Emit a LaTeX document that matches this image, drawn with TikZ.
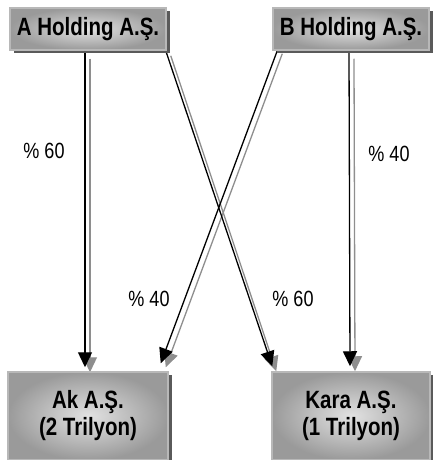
\documentclass[tikz,border=0pt]{standalone}
\usepackage{fontspec}
\setmainfont{Liberation Sans}
\newfontfamily\narrowfont{Liberation Sans}[FakeStretch=0.82]
\usetikzlibrary{arrows.meta,shadows,calc}
\definecolor{boxedge}{HTML}{9A9A9A}
\definecolor{boxmid}{HTML}{E2E2E2}
\definecolor{boxband}{HTML}{B8B8B8}
\definecolor{boxshadow}{HTML}{5A5A5A}
\definecolor{lineshadow}{HTML}{8E8E8E}
\pgfdeclarelayer{background}
\pgfsetlayers{background,main}
\tikzset{
  entity/.style={rectangle, inner color=boxmid, outer color=boxedge,
    draw=boxband, line width=1.5pt, inner sep=0pt,
    font=\narrowfont\fontsize{25}{27}\selectfont\bfseries, align=center,
    drop shadow={shadow xshift=4pt, shadow yshift=-3pt, fill=boxshadow, opacity=1}},
  own/.style={line width=1.3pt, draw=black, -{Triangle[length=15pt,width=14pt]}},
  ownshadow/.style={line width=1.3pt, draw=lineshadow, -{Triangle[length=15pt,width=14pt]}},
  pct/.style={font=\narrowfont\fontsize{22}{24}\selectfont, inner sep=0pt}
}
\begin{document}
\begin{tikzpicture}[x=1pt,y=-1pt]
\useasboundingbox (0,0) rectangle (432,460);
\node[entity, minimum width=156pt, minimum height=42pt] (A) at (88,29) {A Holding A.Ş.};
\node[entity, minimum width=156pt, minimum height=42pt] (B) at (351,29) {B Holding A.Ş.};
\node[entity, minimum width=160pt, minimum height=88pt] (Ak) at (88,416) {Ak A.Ş.\\(2 Trilyon)};
\node[entity, minimum width=158pt, minimum height=88pt] (Kara) at (351,416) {Kara A.Ş.\\(1 Trilyon)};

\node[pct] (p1) at (44,151) {\% 60};
\node[pct] (p2) at (389,154) {\% 40};
\node[pct] (p3) at (149,299) {\% 40};
\node[pct] (p4) at (293,299) {\% 60};

\begin{pgfonlayer}{background}
% shadows of the connectors
\draw[ownshadow] ($([xshift=-3pt]A.south)+(5,8)$) -- ($([xshift=-3pt,yshift=4pt]Ak.north)+(5,5)$);
\draw[ownshadow] ($(A.south east)+(4,5)$) -- ($([shift={(1pt,5pt)}]Kara.north west)+(4,5)$);
\draw[ownshadow] ($([xshift=5pt]B.south west)+(5,3)$) -- ($([shift={(-8pt,8pt)}]Ak.north east)+(5,4)$);
\draw[ownshadow] ($([xshift=-2pt]B.south)+(5,8)$) -- ($([xshift=-1pt,yshift=5pt]Kara.north)+(5,5)$);
% connectors
\draw[own] ([xshift=-3pt]A.south) -- ([xshift=-3pt,yshift=4pt]Ak.north);
\draw[own] ([xshift=-1pt]A.south east) -- ([shift={(1pt,5pt)}]Kara.north west);
\draw[own] ([xshift=5pt]B.south west) -- ([shift={(-8pt,8pt)}]Ak.north east);
\draw[own] ([xshift=-2pt]B.south) -- ([xshift=-1pt,yshift=5pt]Kara.north);
\end{pgfonlayer}
\end{tikzpicture}
\end{document}
